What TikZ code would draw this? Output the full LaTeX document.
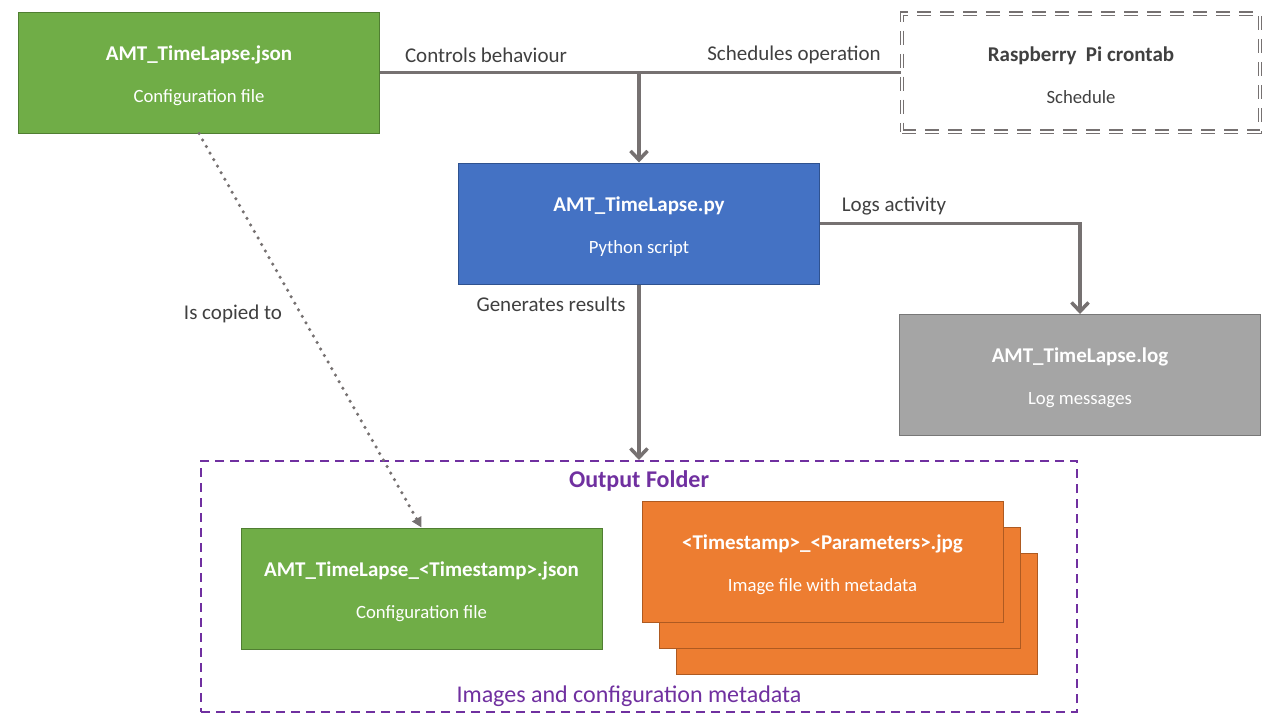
\documentclass[tikz,border=0pt]{standalone}
\usepackage{fontspec}
\setmainfont{Carlito}
\usetikzlibrary{arrows.meta}
\definecolor{gfill}{HTML}{70AD47}\definecolor{gline}{HTML}{507E32}
\definecolor{bfill}{HTML}{4472C4}\definecolor{bline}{HTML}{2F528F}
\definecolor{ofill}{HTML}{ED7D31}\definecolor{oline}{HTML}{AE5A21}
\definecolor{lfill}{HTML}{A5A5A5}\definecolor{lline}{HTML}{787878}
\definecolor{conn}{HTML}{767171}
\definecolor{purp}{HTML}{7030A0}
\definecolor{dtext}{HTML}{404040}
\newcommand{\bxtop}{\rule{0pt}{21pt}}
\begin{document}
\begin{tikzpicture}[x=1pt,y=-1pt,
  box/.style={draw, line width=1pt, minimum width=361, minimum height=121, inner sep=0pt,
    text=white, align=center, font=\fontsize{21}{25}\selectfont},
  lbl/.style={text=dtext, font=\fontsize{21}{25}\selectfont, inner sep=0pt},
  connline/.style={draw=conn, line width=3.5pt},
  arr/.style={connline, -{Straight Barb[length=9pt,width=17pt]}}
]
\useasboundingbox (0,0) rectangle (1280,720);
\fill[white] (0,0) rectangle (1280,720);

\node[box, fill=gfill, draw=gline] (json) at (199,72.5)
  {\bxtop{\bfseries AMT\_TimeLapse.json}\\[17pt]{\fontsize{18.7}{22}\selectfont Configuration file}};
\node[box, draw=conn, double=white, double distance=2pt, line width=1.2pt,
  dash pattern=on 14pt off 9pt, text=dtext, minimum width=358, minimum height=118] (cron) at (1081,72.5)
  {\bxtop{\bfseries Raspberry\ \ Pi crontab}\\[17pt]{\fontsize{18.7}{22}\selectfont Schedule}};
\node[box, fill=bfill, draw=bline] (py) at (639,223.5)
  {\bxtop{\bfseries AMT\_TimeLapse.py}\\[17pt]{\fontsize{18.7}{22}\selectfont Python script}};
\node[box, fill=lfill, draw=lline] (log) at (1080,375)
  {\bxtop{\bfseries AMT\_TimeLapse.log}\\[17pt]{\fontsize{18.7}{22}\selectfont Log messages}};

\node[draw=purp, line width=2pt, dash pattern=on 9pt off 6pt, minimum width=876, minimum height=251,
  inner sep=0pt] (folder) at (639,586.5) {};
\node[text=purp, font=\fontsize{24}{28}\selectfont\bfseries, inner sep=0pt] (ftitle) at (639,481) {Output Folder};
\node[text=purp, font=\fontsize{24}{28}\selectfont, inner sep=0pt] (fcap) at (629,696) {Images and configuration metadata};

\node[box, fill=gfill, draw=gline] (json2) at (421.5,588.5)
  {\bxtop{\bfseries AMT\_TimeLapse\_<Timestamp>.json}\\[17pt]{\fontsize{18.7}{22}\selectfont Configuration file}};
\node[box, fill=ofill, draw=oline] (img3) at (856.5,614) {};
\node[box, fill=ofill, draw=oline] (img2) at (839.5,588) {};
\node[box, fill=ofill, draw=oline] (img1) at (822.5,562)
  {\bxtop{\bfseries <Timestamp>\_<Parameters>.jpg}\\[17pt]{\fontsize{18.7}{22}\selectfont Image file with metadata}};

% connectors
\draw[connline] (json.east) -- (cron.west);
\draw[arr] (py.north |- json.east) -- (py.north);
\draw[arr] (py.east) -- (log.north |- py.east) -- (log.north);
\draw[arr] (py.south) -- (folder.north);
\draw[draw=conn, line width=3.5pt, dash pattern=on 0pt off 7.5pt, line cap=round,
  -{Triangle[length=10pt,width=10pt,line cap=butt]}] (json.south) -- (json2.north);

% labels
\node[lbl] (l1) at (486,55) {Controls behaviour};
\node[lbl] (l2) at (794,55) {Schedules operation};
\node[lbl] (l3) at (894,206) {Logs activity};
\node[lbl] (l4) at (551,304) {Generates results};
\node[lbl] (l5) at (233,314) {Is copied to};
\end{tikzpicture}
\end{document}
